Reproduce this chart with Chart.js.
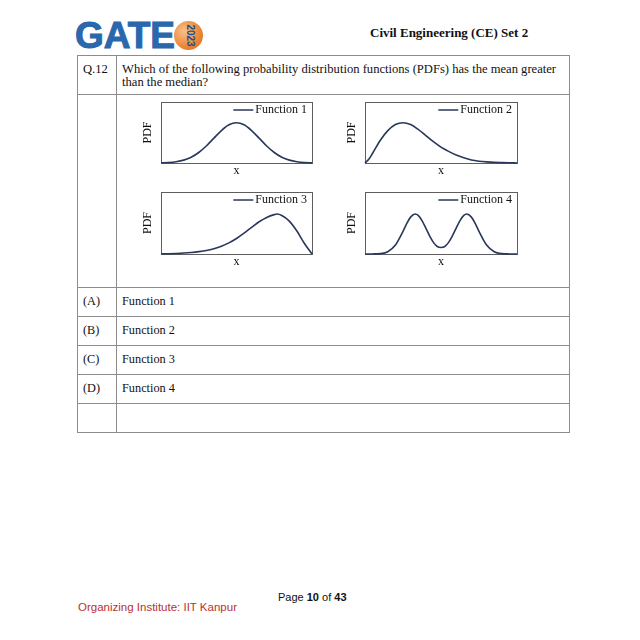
<!DOCTYPE html>
<html><head><meta charset="utf-8">
<script src="https://cdn.jsdelivr.net/npm/chart.js@4"></script>
<style>
html,body{margin:0;padding:0;background:#fff;}
#page{position:relative;width:640px;height:640px;overflow:hidden;font-family:"Liberation Serif","Times New Roman",serif;color:#111;}
.t{position:absolute;white-space:nowrap;font-size:12.3px;line-height:14px;}
.q{position:absolute;white-space:nowrap;font-size:12.6px;line-height:13px;}
.hl{position:absolute;height:1px;background:#8c8c8c;}
.vl{position:absolute;width:1px;background:#8c8c8c;}
canvas{position:absolute;}
</style></head><body><div id="page">

<div style="position:absolute;left:174px;top:21px;width:29px;height:29px;border-radius:50%;background:radial-gradient(circle at 35% 35%,#f8c089 0%,#ec8a3c 55%,#d9661c 100%);"></div>
<div style="position:absolute;left:75px;top:17px;font:bold 37px/37px 'Liberation Sans',Arial,sans-serif;color:#2a67ad;-webkit-text-stroke:1px #2a67ad;">GATE</div>
<div style="position:absolute;left:178px;top:30px;width:24px;height:11px;transform:rotate(90deg);font:bold 10px/11px 'Liberation Sans',Arial,sans-serif;color:#1f4f8c;text-align:center;">2023</div>

<div class="t" style="left:370px;top:25px;font-weight:bold;font-size:13px;line-height:16px;">Civil Engineering (CE) Set 2</div>

<div class="hl" style="left:77px;top:55px;width:493px;"></div>
<div class="hl" style="left:77px;top:94px;width:493px;"></div>
<div class="hl" style="left:77px;top:287px;width:493px;"></div>
<div class="hl" style="left:77px;top:316px;width:493px;"></div>
<div class="hl" style="left:77px;top:345px;width:493px;"></div>
<div class="hl" style="left:77px;top:374px;width:493px;"></div>
<div class="hl" style="left:77px;top:403px;width:493px;"></div>
<div class="hl" style="left:77px;top:432px;width:493px;"></div>
<div class="vl" style="left:77px;top:55px;height:378px;"></div>
<div class="vl" style="left:116px;top:55px;height:378px;"></div>
<div class="vl" style="left:569px;top:55px;height:378px;"></div>

<div class="q" style="left:83px;top:63px;">Q.12</div>
<div class="q" style="left:122px;top:63px;">Which of the following probability distribution functions (PDFs) has the mean greater</div>
<div class="q" style="left:122px;top:76px;">than the median?</div>

<div class="t" style="left:83px;top:294px;">(A)</div>
<div class="t" style="left:122px;top:294px;">Function 1</div>
<div class="t" style="left:83px;top:323px;">(B)</div>
<div class="t" style="left:122px;top:323px;">Function 2</div>
<div class="t" style="left:83px;top:352px;">(C)</div>
<div class="t" style="left:122px;top:352px;">Function 3</div>
<div class="t" style="left:83px;top:381px;">(D)</div>
<div class="t" style="left:122px;top:381px;">Function 4</div>

<canvas id="c1"></canvas>
<canvas id="c2"></canvas>
<canvas id="c3"></canvas>
<canvas id="c4"></canvas>

<div class="t" style="left:278px;top:590px;font-family:'Liberation Sans',Arial,sans-serif;font-size:11px;">Page <b>10</b> of <b>43</b></div>
<div class="t" style="left:78px;top:600px;font-family:'Liberation Sans',Arial,sans-serif;font-size:11.5px;color:#b83232;">Organizing Institute: IIT Kanpur</div>
</div>

<script>
// ---- data ----
const seriesLabels = ['Function 1', 'Function 2', 'Function 3', 'Function 4'];
const xAxisLabel = 'x';
const yAxisLabel = 'PDF';

const f1X = [0,1,2,3,4,5,6,7,8,9,10,11,12,13,14,15,16,17,18,19,20];
const f1Y = [0.003,0.008,0.021,0.047,0.095,0.172,0.279,0.407,0.532,0.626,0.66,0.626,0.532,0.407,0.279,0.172,0.095,0.047,0.021,0.008,0.003];

const f2X = [0,0.5,1,2,3,4,5,6,7,8,9,10,11,12,13,14,15,16,17,18,19,20];
const f2Y = [0,0.06,0.16,0.37,0.53,0.63,0.66,0.63,0.55,0.45,0.35,0.26,0.19,0.13,0.085,0.05,0.03,0.018,0.01,0.006,0.003,0.001];

const f3X = [0,1,2,3,4,5,6,7,8,9,10,11,12,13,14,15,15.4,16,17,18,19,20];
const f3Y = [0.003,0.005,0.009,0.015,0.025,0.038,0.056,0.085,0.125,0.18,0.25,0.335,0.43,0.52,0.59,0.635,0.645,0.62,0.53,0.37,0.17,0];

const f4X = [0,1,2,3,4,5,5.5,6,6.6,7,7.5,8,8.5,9,9.5,10,10.5,11,11.5,12,12.5,13,13.4,14,14.5,15,16,17,18,19,20];
const f4Y = [0,0.001,0.006,0.036,0.144,0.365,0.493,0.595,0.645,0.622,0.539,0.418,0.292,0.188,0.121,0.105,0.121,0.188,0.292,0.418,0.539,0.622,0.645,0.595,0.493,0.365,0.144,0.036,0.006,0.001,0];

const xRange = [0, 20];
const yRange = [0, 1];

// ---- layout (plot-box placement on the page) ----
const boxes = {
  c1: {left:161, top:102, w:151, h:61},
  c2: {left:365, top:102, w:152, h:61},
  c3: {left:161, top:192, w:151, h:62},
  c4: {left:365, top:192, w:152, h:62}
};
const LINE = '#28375a';
const SERIF = "'Liberation Serif','Times New Roman',serif";

const framePlugin = {
  id: 'frameLegend',
  beforeDatasetsDraw(chart) {
    const {ctx, chartArea: a} = chart;
    ctx.save();
    ctx.strokeStyle = '#5e5e5e';
    ctx.lineWidth = 1;
    ctx.strokeRect(Math.round(a.left) + 0.5, Math.round(a.top) + 0.5,
                   Math.round(a.right - a.left), Math.round(a.bottom - a.top));
    ctx.restore();
  },
  afterDatasetsDraw(chart) {
    const {ctx, chartArea: a} = chart;
    const ds = chart.data.datasets[0];
    ctx.save();
    ctx.font = '12px ' + SERIF;
    ctx.textBaseline = 'middle';
    const tw = ctx.measureText(ds.label).width;
    const tx = a.right - 5 - tw, ty = a.top + 8;
    ctx.fillStyle = '#111';
    ctx.fillText(ds.label, tx, ty);
    ctx.strokeStyle = ds.borderColor;
    ctx.lineWidth = 1.5;
    ctx.beginPath();
    ctx.moveTo(tx - 22, ty);
    ctx.lineTo(tx - 2, ty);
    ctx.stroke();
    ctx.restore();
  }
};

function makeChart(id, xs, ys, label) {
  const b = boxes[id];
  const padL = 2, padT = 6, padR = 6, yW = 19, xH = 14;
  const cv = document.getElementById(id);
  cv.width = b.w + padL + yW + padR;
  cv.height = b.h + padT + xH;
  cv.style.left = (b.left - padL - yW) + 'px';
  cv.style.top = (b.top - padT) + 'px';
  const pts = xs.map((x, i) => ({x: x, y: ys[i]}));
  return new Chart(cv, {
    type: 'line',
    data: {datasets: [{label: label, data: pts, borderColor: LINE, borderWidth: 1.6,
      pointRadius: 0, cubicInterpolationMode: 'monotone', fill: false, clip: 4}]},
    options: {
      responsive: false, animation: false, devicePixelRatio: 1,
      layout: {padding: {left: padL, top: padT, right: padR, bottom: 0}},
      plugins: {legend: {display: false}, tooltip: {enabled: false}},
      scales: {
        x: {type: 'linear', min: xRange[0], max: xRange[1],
            ticks: {display: false}, grid: {display: false, drawTicks: false}, border: {display: false},
            title: {display: true, text: xAxisLabel, color: '#111', padding: 0,
                    font: {family: SERIF, size: 12, lineHeight: 1}},
            afterFit(s) { s.height = xH; }},
        y: {type: 'linear', min: yRange[0], max: yRange[1],
            ticks: {display: false}, grid: {display: false, drawTicks: false}, border: {display: false},
            title: {display: true, text: yAxisLabel, color: '#111', padding: 0,
                    font: {family: SERIF, size: 12, lineHeight: 1}},
            afterFit(s) { s.width = yW; }}
      }
    },
    plugins: [framePlugin]
  });
}

makeChart('c1', f1X, f1Y, seriesLabels[0]);
makeChart('c2', f2X, f2Y, seriesLabels[1]);
makeChart('c3', f3X, f3Y, seriesLabels[2]);
makeChart('c4', f4X, f4Y, seriesLabels[3]);
</script>
</body></html>
